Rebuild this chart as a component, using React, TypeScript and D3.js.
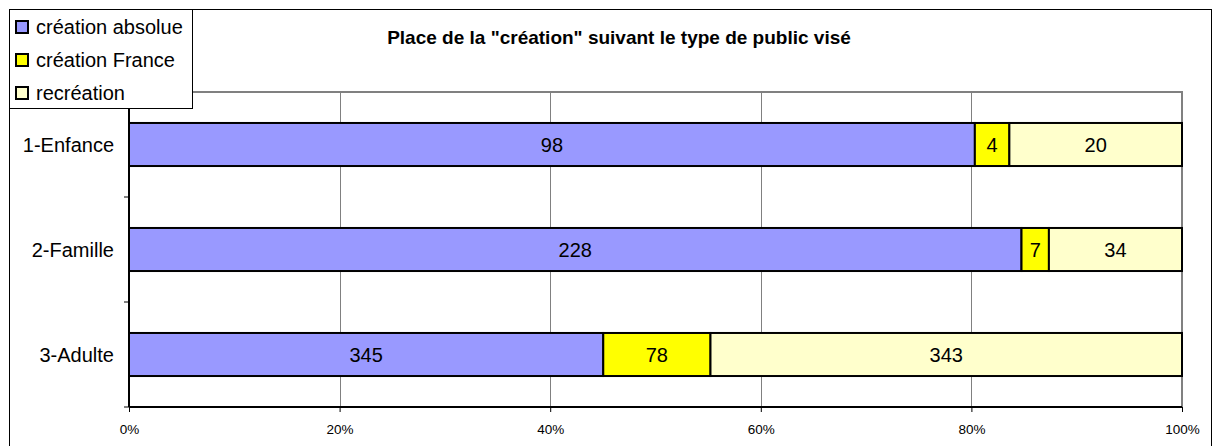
import React, { useEffect, useRef } from "react";
import * as d3 from "d3";

const categories = ["1-Enfance", "2-Famille", "3-Adulte"];
const seriesNames = ["création absolue", "création France", "recréation"];
const creationAbsolue = [98, 228, 345];
const creationFrance = [4, 7, 78];
const recreation = [20, 34, 343];
const tickValues = [0, 0.2, 0.4, 0.6, 0.8, 1];
const colors = ["#9999FF", "#FFFF00", "#FFFFCC"];

const App = () => {
  const svgRef = useRef<SVGSVGElement>(null);
  const width = 1213;
  const height = 446;

  useEffect(() => {
    const svg = d3.select(svgRef.current);
    svg.selectAll("*").remove();

    const font = "Arial, 'Liberation Sans', sans-serif";
    const left = 129, right = 1182, top = 92, bottom = 407;

    const x = d3.scaleLinear().domain([0, 1]).range([left, right]);
    const y = d3
      .scaleBand()
      .domain(categories)
      .range([top, bottom])
      .paddingInner(0.59)
      .paddingOuter(0.295);

    // outer frame
    svg
      .append("rect")
      .attr("x", 9.5)
      .attr("y", 9.5)
      .attr("width", 1202)
      .attr("height", 460)
      .attr("fill", "#fff")
      .attr("stroke", "#000")
      .attr("stroke-width", 1);

    // gridlines
    svg
      .append("g")
      .selectAll("line")
      .data(tickValues.slice(1, -1))
      .join("line")
      .attr("x1", (d) => Math.round(x(d)) + 0.5)
      .attr("x2", (d) => Math.round(x(d)) + 0.5)
      .attr("y1", top)
      .attr("y2", bottom)
      .attr("stroke", "#808080")
      .attr("stroke-width", 1);

    // plot border top / right
    svg
      .append("path")
      .attr("d", `M${left},${top} H${right} V${bottom}`)
      .attr("fill", "none")
      .attr("stroke", "#808080")
      .attr("stroke-width", 2);

    // stacked data
    const rows = categories.map((c, i) => {
      const vals = [creationAbsolue[i], creationFrance[i], recreation[i]];
      const total = d3.sum(vals);
      let acc = 0;
      return vals.map((v, k) => {
        const s = { cat: c, k, v, x0: acc / total, x1: (acc + v) / total };
        acc += v;
        return s;
      });
    });
    const segs = rows.flat();

    const g = svg.append("g");
    g.selectAll("rect")
      .data(segs)
      .join("rect")
      .attr("x", (d) => x(d.x0))
      .attr("y", (d) => y(d.cat)!)
      .attr("width", (d) => x(d.x1) - x(d.x0))
      .attr("height", y.bandwidth())
      .attr("fill", (d) => colors[d.k])
      .attr("stroke", "#000")
      .attr("stroke-width", 2);

    g.selectAll("text")
      .data(segs)
      .join("text")
      .attr("x", (d) => (x(d.x0) + x(d.x1)) / 2)
      .attr("y", (d) => y(d.cat)! + y.bandwidth() / 2)
      .attr("dy", "0.36em")
      .attr("text-anchor", "middle")
      .style("font", `20px ${font}`)
      .attr("fill", "#000")
      .text((d) => d.v);

    // x axis
    svg
      .append("g")
      .attr("transform", `translate(0,${bottom})`)
      .call(
        d3
          .axisBottom(x)
          .tickValues(tickValues)
          .tickFormat(d3.format(".0%"))
          .tickSize(5)
          .tickPadding(12)
      )
      .call((a) => a.select(".domain").attr("stroke-width", 2).attr("d", `M${left},0H${right}`))
      .call((a) =>
        a.selectAll("text").style("font", `13.5px ${font}`).attr("fill", "#000")
      );

    // y axis with ticks on band edges
    svg
      .append("line")
      .attr("x1", left)
      .attr("x2", left)
      .attr("y1", top)
      .attr("y2", bottom)
      .attr("stroke", "#000")
      .attr("stroke-width", 2);
    svg
      .append("g")
      .selectAll("line")
      .data(categories)
      .join("line")
      .attr("x1", left - 5)
      .attr("x2", left)
      .attr("y1", (d) => y(d)! + y.bandwidth() / 2 + y.step() / 2)
      .attr("y2", (d) => y(d)! + y.bandwidth() / 2 + y.step() / 2)
      .attr("stroke", "#000")
      .attr("stroke-width", 1);
    svg
      .append("g")
      .selectAll("text")
      .data(categories)
      .join("text")
      .attr("x", left - 15)
      .attr("y", (d) => y(d)! + y.bandwidth() / 2)
      .attr("dy", "0.36em")
      .attr("text-anchor", "end")
      .style("font", `20px ${font}`)
      .text((d) => d);

    // title
    svg
      .append("text")
      .attr("x", 619)
      .attr("y", 44)
      .attr("text-anchor", "middle")
      .style("font", `bold 19px ${font}`)
      .text('Place de la "création" suivant le type de public visé');

    // legend
    const lg = svg.append("g");
    lg.append("rect")
      .attr("x", 9.5)
      .attr("y", 9.5)
      .attr("width", 183)
      .attr("height", 99)
      .attr("fill", "#fff")
      .attr("stroke", "#000")
      .attr("stroke-width", 1);
    const item = lg
      .selectAll("g")
      .data(seriesNames)
      .join("g")
      .attr("transform", (d, i) => `translate(0,${27 + i * 33})`);
    item
      .append("rect")
      .attr("x", 16)
      .attr("y", -6)
      .attr("width", 12)
      .attr("height", 12)
      .attr("fill", (d, i) => colors[i])
      .attr("stroke", "#000")
      .attr("stroke-width", 2);
    item
      .append("text")
      .attr("x", 36)
      .attr("dy", "0.36em")
      .style("font", `20px ${font}`)
      .text((d) => d);
  }, []);

  return (
    <svg
      ref={svgRef}
      width={width}
      height={height}
      style={{ position: "absolute", left: 0, top: 0, background: "#fff" }}
    ></svg>
  );
};

export default App;
